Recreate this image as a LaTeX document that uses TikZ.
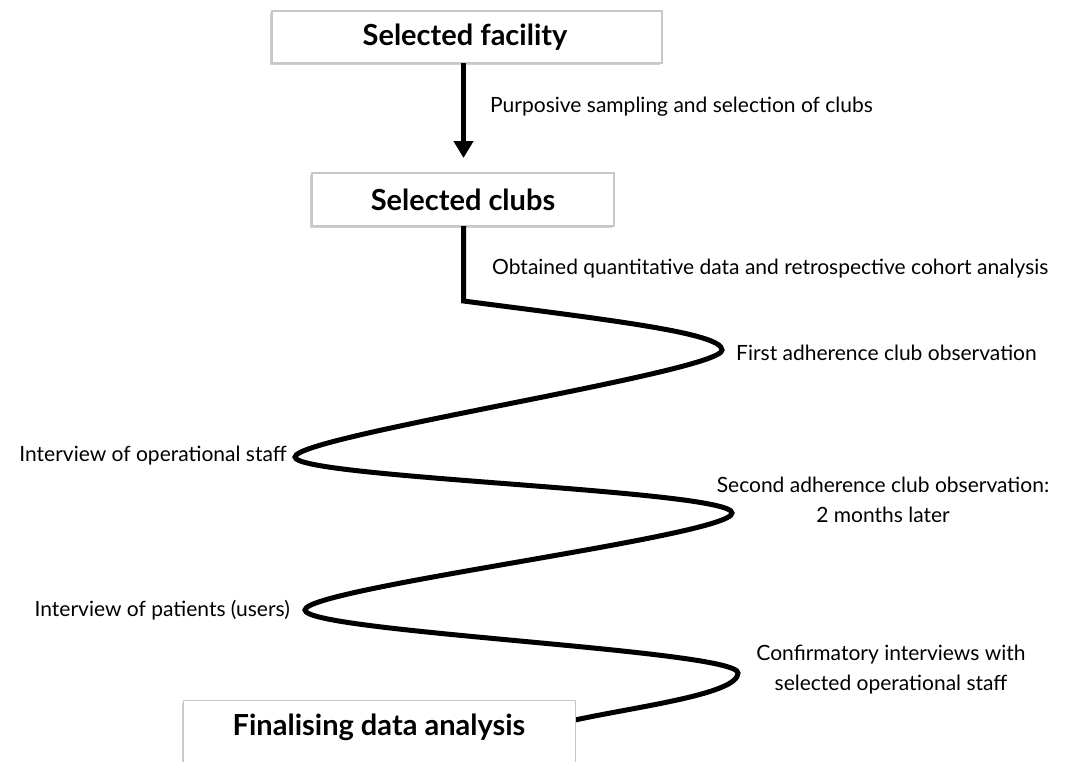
\documentclass[tikz,border=0pt]{standalone}
\usepackage{fontspec}
\setmainfont{Lato}
\usetikzlibrary{arrows.meta,shadows}
\begin{document}
\begin{tikzpicture}[x=1pt,y=-1pt,
  stagebox/.style={draw=black!22, line width=1.2pt, fill=white, inner sep=0pt,
     drop shadow={shadow xshift=-2pt, shadow yshift=-2pt, opacity=0.3, fill=black!60}},
  titletext/.style={font=\fontsize{29}{34}\selectfont\bfseries, inner sep=0pt},
  lbl/.style={font=\fontsize{21}{30}\selectfont, inner sep=0pt, align=center},
  flow/.style={line width=5pt, black},
]
\useasboundingbox (0,0) rectangle (1078,761);
% boxes
\node[stagebox, minimum width=390pt, minimum height=52pt] (fac) at (467,37) {};
\node[titletext] (factext) at (465,37) {Selected facility};
\node[stagebox, minimum width=302pt, minimum height=53pt] (clubs) at (463,199.5) {};
\node[titletext] (clubstext) at (463,199.5) {Selected clubs};

% arrow
\coordinate (a1) at (463.5,63);
\coordinate (a2) at (463.5,158);
\draw[flow, -{Triangle[length=17pt,width=19pt]}] (a1) -- (a2);

% zig-zag path
\coordinate (s0) at (463.5,226);
\coordinate (s1) at (463.5,301);
\coordinate (p1) at (722,350);
\coordinate (p2) at (295,457);
\coordinate (p3) at (732,513);
\coordinate (p4) at (305,610);
\coordinate (p5) at (738,673);
\coordinate (e) at (575,720);
\draw[flow, line join=miter]
  (s0) -- (s1)
  .. controls (610,320) and (722,333) .. (p1)
  .. controls (722,372) and (295,436) .. (p2)
  .. controls (295,478) and (732,490) .. (p3)
  .. controls (732,536) and (305,588) .. (p4)
  .. controls (305,632) and (738,650) .. (p5)
  .. controls (738,694) and (640,706) .. (e);

% final box on top of the path end
\node[stagebox, minimum width=392pt, minimum height=80pt, anchor=north west] (final) at (183,700) {};
\node[titletext] (finaltext) at (379,727) {Finalising data analysis};

% labels
\node[lbl, anchor=west] (l1) at (490,107) {Purposive sampling and selection of clubs};
\node[lbl, anchor=west] (l2) at (492,269) {Obtained quantitative data and retrospective cohort analysis};
\node[lbl, anchor=west] (l3) at (736,353) {First adherence club observation};
\node[lbl, anchor=east] (l4) at (287,456) {Interview of operational staff};
\node[lbl] (l5) at (883,500) {Second adherence club observation:\\2 months later};
\node[lbl, anchor=east] (l6) at (290,610) {Interview of patients (users)};
\node[lbl] (l7) at (891,670) {Confirmatory interviews with\\selected operational staff};
\end{tikzpicture}
\end{document}
